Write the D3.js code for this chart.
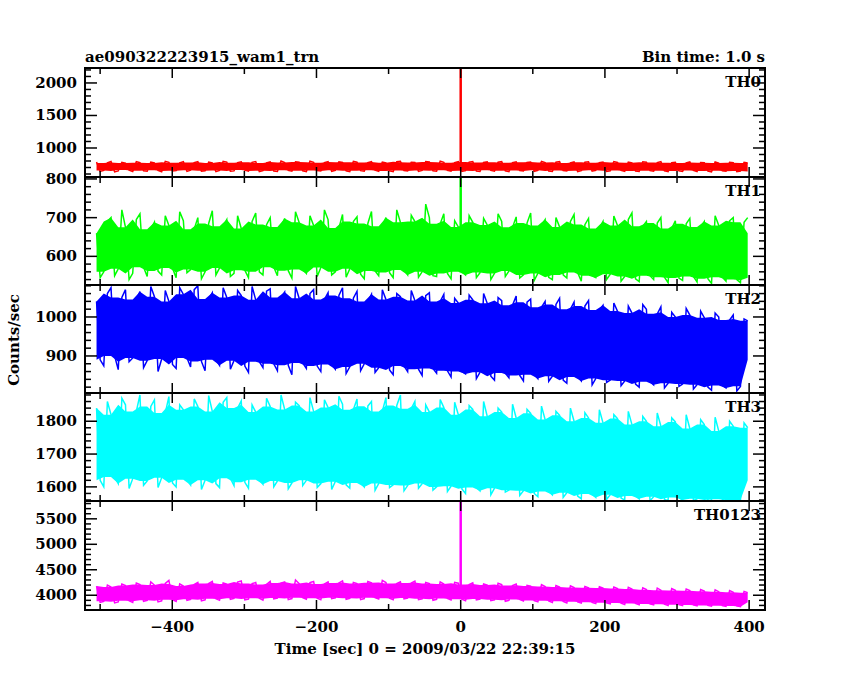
<!DOCTYPE html><html><head><meta charset="utf-8">
<script src="https://cdn.jsdelivr.net/npm/d3@7"></script>
<style>body{margin:0;background:#fff}text{font-family:"DejaVu Serif",serif;font-weight:bold;fill:#000}</style>
</head><body><svg id="c" width="850" height="680"></svg><script>
const panelNames=["TH0","TH1","TH2","TH3","TH0123"];
const colors=["#ff0000","#00ff00","#0000ff","#00ffff","#ff00ff"];
const yDomains=[[554,2230],[526,805],[805,1082],[1557,1886],[3710,5850]];
const yMajor=[500,100,100,100,500];
const yMinor=[100,20,20,20,100];
const xTicks=[-400,-200,0,200,400];
const tStart=-505, tEnd=398;
const spikeVals=[2230,805,null,null,5850];
// per-10s-bin envelope (upper / lower) for each panel
const hiTH0=[785,770,792,778,768,790,775,782,770,795,780,772,788,776,790,781,769,794,783,775,787,779,792,771,785,800,777,789,783,796,780,774,791,786,779,793,782,776,790,784,772,788,795,781,777,791,785,798,780,775,789,783,792,778,786,781,790,774,788,779,785,793,776,782,790,771,786,780,788,775,784,791,777,783,772,787,780,776,789,774,781,770,785,777,772,786,768,779,774,781,770];
const loTH0=[640,655,632,648,660,638,650,642,657,635,646,652,640,658,644,650,636,655,642,648,660,645,638,652,647,640,656,643,650,638,654,646,641,657,649,636,652,645,659,642,648,637,653,646,640,655,650,643,658,645,639,652,647,641,656,644,650,638,654,647,642,657,645,640,653,648,636,651,644,657,640,649,655,642,646,638,652,644,650,636,648,641,655,639,646,633,650,642,637,645,631];
const hiTH1=[660,690,700,720,675,695,710,670,688,705,680,715,692,670,700,685,718,678,695,705,672,690,712,682,700,676,698,715,688,705,680,720,695,673,708,690,702,685,716,678,700,720,688,706,690,735,700,684,710,692,676,705,688,698,681,710,690,675,702,686,712,680,695,700,676,690,708,682,698,672,690,704,680,695,712,678,690,686,700,672,692,684,698,676,690,705,680,692,700,688,700];
const loTH1=[545,560,550,568,540,556,572,548,562,552,570,545,558,566,542,560,552,570,548,556,564,545,560,552,572,550,563,544,566,556,548,571,552,560,546,568,554,542,562,550,558,545,565,552,546,560,550,548,556,542,560,552,545,558,540,556,548,562,544,552,538,556,546,540,552,544,558,536,550,545,540,554,536,548,542,535,550,540,546,532,544,538,548,534,542,530,546,536,540,532,538];
const hiTH2=[1040,1060,1075,1050,1070,1045,1065,1078,1052,1068,1040,1075,1058,1070,1080,1046,1062,1075,1050,1068,1055,1078,1044,1066,1072,1050,1064,1078,1048,1060,1070,1045,1062,1055,1075,1048,1066,1040,1058,1070,1045,1060,1052,1068,1042,1055,1062,1040,1058,1048,1036,1056,1044,1060,1035,1050,1042,1030,1054,1038,1046,1025,1040,1032,1048,1020,1038,1028,1042,1018,1030,1036,1015,1028,1010,1032,1020,1008,1026,1012,1000,1022,1005,1015,998,1010,1000,992,1005,995,990];
const loTH2=[890,875,900,865,885,895,870,888,860,892,878,868,895,872,886,862,890,876,866,888,874,858,885,870,880,862,876,852,882,868,874,860,878,866,855,872,862,880,858,870,864,852,874,860,866,850,868,856,862,846,860,854,842,858,848,838,856,844,850,836,852,842,835,848,838,830,846,836,826,842,832,838,824,836,828,820,834,826,818,830,822,828,815,826,820,812,824,818,810,822,815];
const hiTH3=[1840,1860,1820,1870,1850,1830,1880,1845,1865,1825,1875,1850,1835,1868,1845,1878,1830,1858,1872,1840,1862,1850,1828,1870,1845,1880,1836,1858,1848,1872,1830,1865,1842,1876,1852,1835,1868,1846,1860,1830,1872,1848,1880,1838,1860,1850,1828,1866,1842,1858,1820,1848,1836,1860,1815,1840,1828,1852,1810,1836,1824,1846,1805,1830,1818,1840,1800,1826,1810,1835,1795,1820,1808,1830,1790,1815,1800,1825,1785,1810,1798,1820,1778,1805,1790,1812,1770,1800,1785,1795,1780];
const loTH3=[1620,1600,1630,1610,1595,1625,1605,1618,1598,1628,1612,1600,1622,1606,1592,1620,1610,1598,1626,1604,1614,1596,1622,1608,1600,1618,1594,1612,1604,1620,1598,1610,1592,1616,1606,1596,1612,1600,1590,1610,1598,1606,1588,1604,1596,1610,1590,1600,1586,1602,1594,1580,1598,1588,1576,1596,1584,1590,1574,1588,1580,1570,1586,1576,1568,1582,1572,1564,1578,1568,1562,1576,1566,1560,1572,1564,1558,1570,1562,1558,1568,1560,1558,1564,1558,1560,1562,1558,1560,1558,1560];
const hiTH0123=[4180,4200,4160,4220,4190,4240,4210,4260,4200,4230,4290,4220,4180,4210,4250,4230,4270,4240,4220,4260,4280,4230,4250,4210,4270,4240,4260,4300,4230,4250,4270,4220,4260,4240,4280,4250,4230,4270,4245,4290,4250,4230,4265,4240,4275,4250,4230,4260,4220,4250,4235,4210,4245,4220,4200,4235,4210,4190,4220,4195,4180,4210,4170,4190,4160,4185,4150,4170,4145,4165,4140,4160,4130,4155,4120,4145,4110,4140,4100,4130,4095,4120,4090,4110,4080,4105,4070,4090,4060,4075,4050];
const loTH0123=[3860,3880,3850,3870,3890,3860,3880,3900,3870,3890,3910,3880,3900,3920,3890,3910,3930,3900,3920,3940,3910,3925,3940,3905,3930,3945,3915,3935,3950,3920,3940,3910,3935,3950,3920,3940,3915,3935,3950,3925,3940,3910,3930,3945,3915,3930,3900,3920,3935,3905,3920,3890,3910,3925,3895,3910,3880,3900,3915,3885,3895,3870,3890,3860,3880,3850,3870,3845,3860,3835,3850,3830,3845,3820,3840,3815,3830,3810,3825,3800,3815,3795,3810,3790,3800,3785,3795,3780,3790,3775,3770];
const his=[hiTH0,hiTH1,hiTH2,hiTH3,hiTH0123], los=[loTH0,loTH1,loTH2,loTH3,loTH0123];

const svg=d3.select("#c");
const L=85,R=765,tops=[68,177,285,393,501,610];
const x=d3.scaleLinear().domain([-521,422]).range([L,R]);
panelNames.forEach((name,p)=>{
  const y0=tops[p],y1=tops[p+1];
  const y=d3.scaleLinear().domain(yDomains[p]).range([y1,y0]);
  const g=svg.append("g");
  const n=Math.min(his[p].length,los[p].length), step=(tEnd-tStart)/(n-1);
  const pts=[];
  for(let i=0;i<n;i++){pts.push({t:tStart+i*step,h:his[p][i],l:los[p][i]});}
  // dense core band between adjacent bins' envelopes
  const core=pts.map((d,i)=>{const q=pts[(i+1)%n];return {t:d.t,h:Math.min(d.h,q.h),l:Math.max(d.l,q.l)};});
  g.append("path").datum(core).attr("fill",colors[p])
   .attr("d",d3.area().x(d=>x(d.t)).y0(d=>y(d.l)).y1(d=>y(d.h)));
  // jagged trace through the envelope extremes
  const zz=[];pts.forEach((d,i)=>{zz.push([d.t,i%2?d.l:d.h]);zz.push([d.t+step/2,i%2?d.h:d.l]);});
  g.append("path").datum(zz.filter(d=>d[0]<=tEnd)).attr("fill","none").attr("stroke",colors[p]).attr("stroke-width",1.5)
   .attr("d",d3.line().x(d=>x(d[0])).y(d=>y(d[1])));
  if(spikeVals[p]!==null){
    g.append("line").attr("x1",x(0)).attr("x2",x(0)).attr("y1",y((his[p][50]+los[p][50])/2)).attr("y2",y(spikeVals[p]))
     .attr("stroke",colors[p]).attr("stroke-width",2.5);
  }
  g.append("rect").attr("x",L).attr("y",y0).attr("width",R-L).attr("height",y1-y0).attr("fill","none").attr("stroke","#000").attr("stroke-width",2);
  const [a,b]=yDomains[p];
  d3.range(Math.ceil(a/yMinor[p])*yMinor[p],b,yMinor[p]).forEach(v=>{
    const maj=Math.abs(v/yMajor[p]-Math.round(v/yMajor[p]))<1e-6, len=maj?12:6;
    g.append("line").attr("x1",L).attr("x2",L+len).attr("y1",y(v)).attr("y2",y(v)).attr("stroke","#000").attr("stroke-width",1.5);
    g.append("line").attr("x1",R).attr("x2",R-len).attr("y1",y(v)).attr("y2",y(v)).attr("stroke","#000").attr("stroke-width",1.5);
    if(maj) g.append("text").attr("x",L-8).attr("y",y(v)+5).attr("text-anchor","end").attr("font-size",15).text(v);
  });
  d3.range(-500,423,100).forEach(v=>{
    const len=(v%200===0)?10:6;
    g.append("line").attr("x1",x(v)).attr("x2",x(v)).attr("y1",y0).attr("y2",y0+len).attr("stroke","#000").attr("stroke-width",1.5);
    g.append("line").attr("x1",x(v)).attr("x2",x(v)).attr("y1",y1).attr("y2",y1-len).attr("stroke","#000").attr("stroke-width",1.5);
  });
  g.append("text").attr("x",R-4).attr("y",y0+19).attr("text-anchor","end").attr("font-size",15).text(name);
});
xTicks.forEach(v=>svg.append("text").attr("x",x(v)).attr("y",632).attr("text-anchor","middle").attr("font-size",15).text(v<0?"\u2212"+(-v):v));
svg.append("text").attr("x",425).attr("y",654).attr("text-anchor","middle").attr("font-size",15).text("Time [sec] 0 = 2009/03/22 22:39:15");
svg.append("text").attr("transform","translate(19,340) rotate(-90)").attr("text-anchor","middle").attr("font-size",15).text("Counts/sec");
svg.append("text").attr("x",L).attr("y",62).attr("font-size",15).text("ae090322223915_wam1_trn");
svg.append("text").attr("x",R).attr("y",62).attr("text-anchor","end").attr("font-size",15).text("Bin time: 1.0 s");
</script></body></html>
